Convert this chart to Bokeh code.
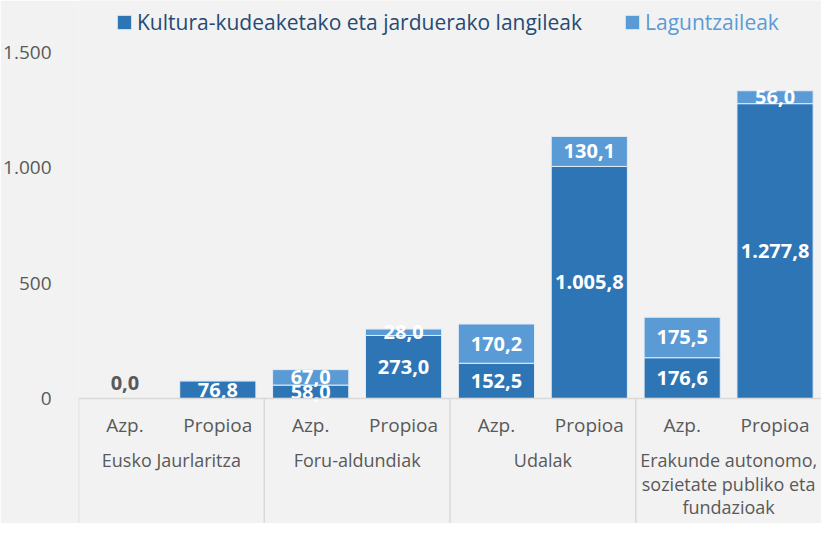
from bokeh.plotting import figure
from bokeh.models import (ColumnDataSource, FactorRange, Range1d, FixedTicker,
                          Span, Legend, LegendItem)
from bokeh.core.properties import value
from bokeh.embed import file_html
from bokeh.resources import INLINE

# ---- data ----
groups = ["Eusko Jaurlaritza", "Foru-aldundiak", "Udalak",
          "Erakunde autonomo,\nsozietate publiko eta\nfundazioak"]
subgroups = ["Azp.", "Propioa"]
series_names = ["Kultura-kudeaketako eta jarduerako langileak", "Laguntzaileak"]
kultura = [0.0, 76.8, 58.0, 273.0, 152.5, 1005.8, 176.6, 1277.8]
laguntzaileak = [None, None, 67.0, 28.0, 170.2, 130.1, 175.5, 56.0]
y_ticks = [0, 500, 1000, 1500]
y_tick_labels = ["0", "500", "1.000", "1.500"]

# ---- style ----
DARK = "#2E75B6"
LIGHT = "#5B9BD5"
BG = "#F2F2F2"
GREY = "#595959"
LINE = "#D9D9D9"
FONT = "Open Sans"
Y_MIN, Y_MAX = -542, 1725
W, H = 821, 523


def fmt(v):
    s = f"{v:,.1f}"
    return s.replace(",", "X").replace(".", ",").replace("X", ".")


factors = [(g, s) for g in groups for s in subgroups]
lag0 = [v if v is not None else 0.0 for v in laguntzaileak]

p = figure(x_range=FactorRange(factors=factors, factor_padding=0, group_padding=0,
                               subgroup_padding=0, range_padding=0),
           y_range=Range1d(Y_MIN, Y_MAX),
           width=W, height=H, output_backend="svg", toolbar_location=None,
           x_axis_location=None,
           min_border_left=76, min_border_right=0, min_border_top=0, min_border_bottom=0)
p.background_fill_color = BG
p.border_fill_color = BG
p.outline_line_color = None
p.grid.visible = False

src = ColumnDataSource(dict(x=factors, kultura=kultura, lag=lag0))
rs = p.vbar_stack(["kultura", "lag"], x="x", width=0.82, source=src,
                  fill_color=[DARK, LIGHT], line_color="#E4ECF5", line_width=1)

# separators and axis line
bounds = [i * len(subgroups) for i in range(len(groups))]
p.segment(x0=bounds, y0=[0] * len(bounds), x1=bounds, y1=[Y_MIN] * len(bounds),
          line_color=LINE, line_width=1.5)
p.add_layout(Span(location=0, dimension="width", line_color=LINE, line_width=1.5))

# value labels
lx, ly, lt = [], [], []
zx, zt = [], []
for f, k, l in zip(factors, kultura, laguntzaileak):
    if k > 0:
        lx.append(f); ly.append(k / 2); lt.append(fmt(k))
    else:
        zx.append(f); zt.append(fmt(k))
    if l is not None:
        lx.append(f); ly.append(k + l / 2); lt.append(fmt(l))

p.text(x=lx, y=ly, text=lt, text_color="white", text_font=value(FONT),
       text_font_style="bold", text_font_size="20px", text_align="center",
       text_baseline="middle")
p.text(x=zx, y=[0] * len(zx), text=zt, text_color=GREY, text_font=value(FONT),
       text_font_style="bold", text_font_size="20px", text_align="center",
       text_baseline="bottom", y_offset=-8)

# category labels
p.text(x=factors, y=[0] * len(factors), text=[s for g, s in factors], text_color=GREY,
       text_font=value(FONT), text_font_size="19px", text_align="center",
       text_baseline="middle", y_offset=27)
p.text(x=groups, y=[0] * len(groups), text=groups, text_color=GREY,
       text_font=value(FONT), text_font_size="18px", text_align="center",
       text_baseline="top", y_offset=50, text_line_height=0.98)

# y axis
p.yaxis.ticker = FixedTicker(ticks=y_ticks)
p.yaxis.major_label_overrides = dict(zip(y_ticks, y_tick_labels))
p.yaxis.axis_line_color = None
p.yaxis.major_tick_line_color = None
p.yaxis.minor_tick_line_color = None
p.yaxis.major_label_text_color = GREY
p.yaxis.major_label_text_font = FONT
p.yaxis.major_label_text_font_size = "19px"
p.yaxis.major_label_standoff = 21

# legends
common = dict(padding=0, margin=0, spacing=0, border_line_alpha=0,
              background_fill_alpha=0, glyph_width=18, glyph_height=18,
              label_standoff=4, label_text_font=FONT, label_text_font_size="21px")
leg1 = Legend(items=[LegendItem(label=series_names[0], renderers=[rs[0]])],
              location=(37, 487), label_text_color="#264A73", **common)
leg2 = Legend(items=[LegendItem(label=series_names[1], renderers=[rs[1]])],
              location=(545, 487), label_text_color=LIGHT, **common)
p.add_layout(leg1)
p.add_layout(leg2)

open("out.html", "w").write(file_html(p, INLINE))
